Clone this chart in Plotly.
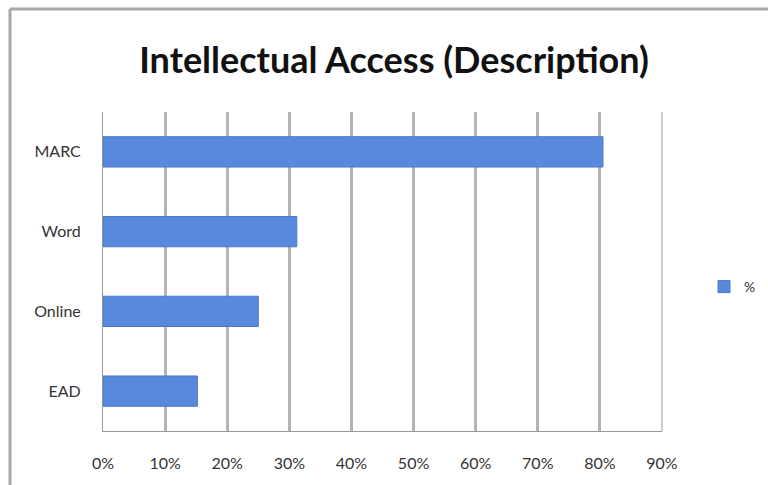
import plotly.graph_objects as go

categories = ["EAD", "Online", "Word", "MARC"]
values = [0.152, 0.25, 0.312, 0.805]
series_name = "%"
tick_vals = [0, 0.1, 0.2, 0.3, 0.4, 0.5, 0.6, 0.7, 0.8, 0.9]
tick_text = ["0%", "10%", "20%", "30%", "40%", "50%", "60%", "70%", "80%", "90%"]

W, H = 768, 485
L, R, T, B = 103, 106, 112, 54
pw = W - L - R
ph = H - T - B

fig = go.Figure()
fig.add_trace(go.Bar(
    y=categories, x=values, orientation="h", name=series_name,
    marker=dict(color="#5889dc", line=dict(color="#4a78c8", width=1)),
    width=0.38, showlegend=True,
))

fig.update_layout(
    width=W, height=H,
    margin=dict(l=L, r=R, t=T, b=B, autoexpand=False),
    paper_bgcolor="white", plot_bgcolor="white",
    font=dict(family="Lato, Open Sans, sans-serif", color="#333333", size=15),
    title=dict(text="<b>Intellectual Access (Description)</b>", x=394 / W, xanchor="center",
               y=1 - 60 / H, yanchor="middle",
               font=dict(size=36, color="#111111", family="Lato, Open Sans, sans-serif")),
    xaxis=dict(range=[0, 0.9], tickvals=tick_vals, ticktext=tick_text,
               showgrid=True, gridcolor="#b4b4b4", gridwidth=3,
               showline=True, linecolor="#999999", linewidth=1, mirror=False,
               zeroline=False, ticks="", ticklabelstandoff=18,
               tickfont=dict(size=16, color="#333333")),
    yaxis=dict(showgrid=False, showline=True, linecolor="#999999", linewidth=1,
               ticks="", ticklabelstandoff=18, tickfont=dict(size=16, color="#333333")),
    legend=dict(x=(704 - L) / pw, y=1 - (287 - T) / ph, xanchor="left", yanchor="middle",
                font=dict(size=14, color="#333333"), itemwidth=30,
                bgcolor="rgba(0,0,0,0)"),
    bargap=0.6,
)

# outer chart frame (left and top edges visible in reference)
fig.add_shape(type="line", xref="paper", yref="paper",
              x0=(10 - L) / pw, x1=(10 - L) / pw, y0=-(B + 5) / ph, y1=1 + (T - 9) / ph,
              line=dict(color="#a8a8a8", width=3))
fig.add_shape(type="line", xref="paper", yref="paper",
              x0=(10 - L) / pw, x1=1 + (R + 5) / pw, y0=1 + (T - 9) / ph, y1=1 + (T - 9) / ph,
              line=dict(color="#a8a8a8", width=3))
# right border of plot at 90%
fig.add_shape(type="line", xref="paper", yref="paper", x0=1, x1=1, y0=0, y1=1,
              line=dict(color="#999999", width=1))

fig.write_html("out.html")
